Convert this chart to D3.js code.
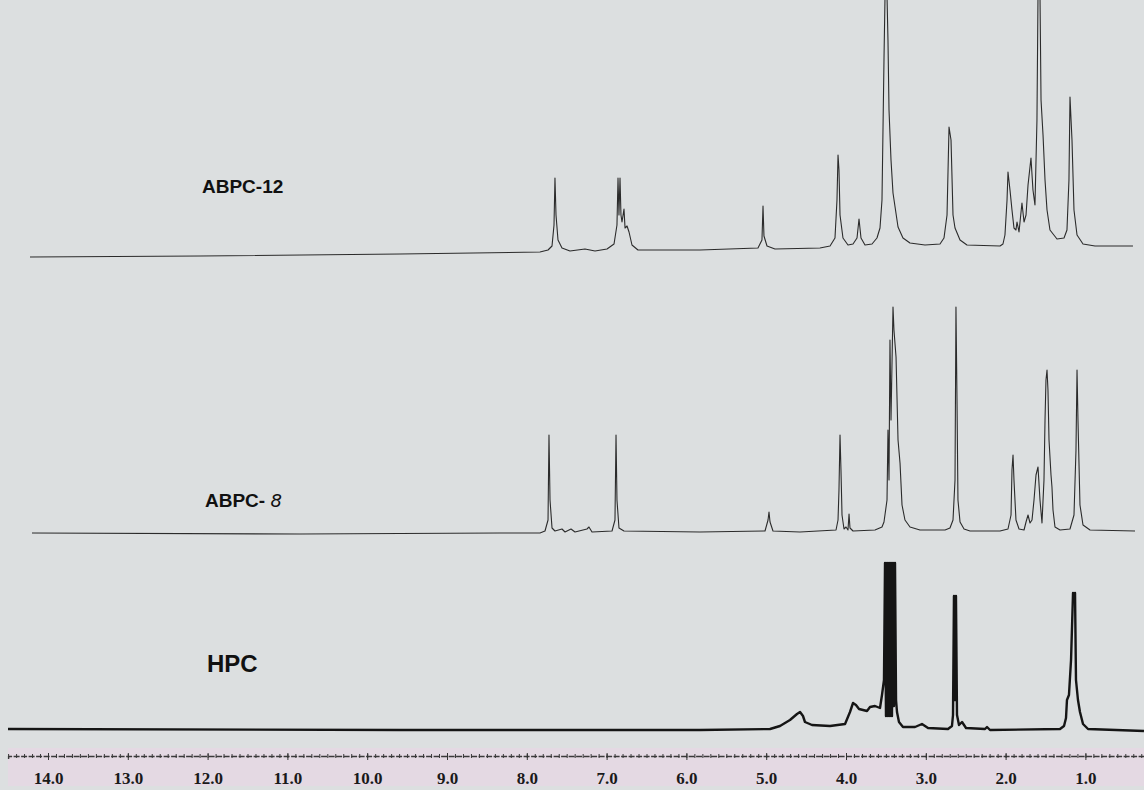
<!DOCTYPE html>
<html><head><meta charset="utf-8">
<script src="https://cdn.jsdelivr.net/npm/d3@7"></script>
<style>
html,body{margin:0;padding:0;background:#dcdfe0;}
svg{display:block;}
</style></head>
<body>
<svg id="chart" width="1144" height="790"></svg>
<script>
// ---- data: [chemical shift (ppm), intensity (arb. units)] ----
const abpc12 = [
 [14.226,1],[12.095,2],[9.589,4],[7.835,6],[7.734,8],[7.684,12],[7.659,33],[7.647,80],[7.634,43],[7.609,18],
 [7.559,10],[7.459,7],[7.271,9],[7.145,7],[6.995,9],[6.907,14],[6.870,33],[6.857,80],[6.845,43],[6.832,80],
 [6.820,43],[6.807,36],[6.782,49],[6.769,30],[6.744,32],[6.719,26],[6.682,13],[6.607,8],[5.830,8],
 [5.103,10],[5.053,18],[5.040,52],[5.028,22],[4.990,12],[4.890,9],[4.326,10],
 [4.200,12],[4.138,20],[4.113,58],[4.100,103],[4.088,88],[4.075,43],[4.038,20],[3.975,13],[3.912,14],
 [3.862,20],[3.837,39],[3.812,20],[3.762,13],[3.674,14],
 [3.612,20],[3.574,30],[3.549,58],[3.524,198],[3.511,262],[3.486,262],[3.474,218],[3.461,148],[3.436,98],
 [3.411,65],[3.348,31],[3.286,20],[3.198,15],[3.010,13],[2.822,14],
 [2.772,20],[2.734,43],[2.709,131],[2.684,118],[2.659,43],[2.634,30],[2.571,18],[2.484,13],[2.070,12],
 [2.033,14],[2.008,23],[1.982,58],[1.970,86],[1.945,68],[1.920,48],[1.895,30],[1.870,28],[1.857,36],
 [1.832,26],[1.795,55],[1.769,36],[1.744,43],[1.719,73],[1.682,100],[1.657,68],[1.632,53],[1.607,138],
 [1.594,262],[1.569,262],[1.556,158],[1.531,123],[1.506,78],[1.481,48],[1.444,28],[1.356,19],[1.268,20],
 [1.231,28],[1.206,78],[1.193,161],[1.168,118],[1.143,48],[1.105,23],[1.030,14],[0.880,12],[0.404,12]
];
const abpc8 = [
 [14.201,1],[10.842,0],[8.336,1],[7.835,1],[7.772,3],[7.734,14],[7.722,99],[7.709,34],[7.684,6],[7.647,3],
 [7.559,5],[7.521,2],[7.446,5],[7.396,2],[7.246,5],[7.221,7],[7.183,2],
 [6.932,3],[6.895,14],[6.882,99],[6.870,34],[6.845,6],[6.782,3],[5.830,2],
 [5.015,3],[4.977,14],[4.965,22],[4.952,12],[4.915,3],[4.577,2],
 [4.125,4],[4.100,14],[4.088,44],[4.075,99],[4.063,64],[4.050,19],[4.025,5],[4.000,7],[3.975,4],[3.962,20],
 [3.950,6],[3.912,3],[3.637,4],[3.549,7],[3.524,12],[3.486,34],[3.474,104],[3.461,54],[3.449,194],
 [3.436,114],[3.411,227],[3.399,204],[3.373,177],[3.348,94],[3.323,71],[3.298,29],[3.261,14],[3.198,7],
 [3.073,4],[2.759,4],[2.697,6],[2.659,14],[2.634,54],[2.622,227],[2.609,134],[2.597,34],[2.571,12],
 [2.521,5],[2.446,3],[2.070,3],[1.970,5],[1.932,19],[1.920,64],[1.907,79],[1.895,54],[1.870,14],
 [1.832,5],[1.769,4],[1.744,12],[1.719,19],[1.694,11],[1.669,14],[1.644,34],[1.619,59],[1.594,67],
 [1.569,34],[1.544,11],[1.519,54],[1.506,114],[1.494,154],[1.481,164],[1.469,144],[1.456,94],[1.431,59],
 [1.419,47],[1.406,24],[1.381,7],[1.318,4],[1.193,5],[1.143,19],[1.118,84],[1.105,164],[1.093,114],
 [1.068,29],[1.030,9],[0.942,4],[0.378,3]
];
const hpc = [
 [14.501,2],[9.589,1],[5.830,1],[4.952,2],[4.827,5],[4.702,11],[4.614,17],[4.576,19],[4.539,15],[4.514,9],
 [4.426,6],[4.200,5],[4.012,7],[3.950,19],[3.912,28],[3.875,26],[3.837,22],[3.787,21],[3.737,20],
 [3.699,24],[3.637,25],[3.574,23],[3.549,36],[3.524,51],[3.511,168],[3.499,15],[3.486,168],[3.474,15],
 [3.461,168],[3.449,15],[3.436,168],[3.424,15],[3.411,168],[3.399,25],[3.386,168],[3.373,31],[3.361,19],
 [3.336,9],[3.286,4],[3.135,4],[3.048,7],[2.972,3],[2.722,2],[2.672,5],[2.659,16],[2.647,135],[2.634,31],
 [2.622,135],[2.609,16],[2.584,6],[2.546,9],[2.496,3],[2.258,2],[2.233,4],[2.195,1],[1.318,2],
 [1.268,5],[1.243,13],[1.231,31],[1.206,36],[1.180,71],[1.155,138],[1.143,131],[1.130,138],[1.118,51],
 [1.093,31],[1.068,19],[1.030,7],[0.967,2],[0.266,0]
];
const spectrumNames = ["ABPC-12", "ABPC- ", "HPC"];
const tickLabels = [14.0, 13.0, 12.0, 11.0, 10.0, 9.0, 8.0, 7.0, 6.0, 5.0, 4.0, 3.0, 2.0, 1.0];

// ---- drawing ----
const svg = d3.select("#chart");
const W = 1144, H = 790;

const x = d3.scaleLinear().domain([14, 1]).range([48, 1085.4]);

// label band
svg.append("rect").attr("x", 8).attr("y", 748).attr("width", W - 8).attr("height", 38)
  .attr("fill", "#e4d9e3");

const panels = [
  {data: abpc12, base: 258, color: "#2b2b2b", w: 1.1},
  {data: abpc8, base: 534, color: "#2b2b2b", w: 1.1},
  {data: hpc, base: 731, color: "#151515", w: 2.4}
];

panels.forEach(p => {
  const y = d3.scaleLinear().domain([0, 100]).range([p.base, p.base - 100]);
  const line = d3.line().x(d => x(d[0])).y(d => y(d[1]));
  svg.append("path").datum(p.data)
    .attr("d", line)
    .attr("fill", "none")
    .attr("stroke", p.color)
    .attr("stroke-width", p.w)
    .attr("stroke-linejoin", "round");
});

// spectrum labels
svg.append("text").attr("x", 202).attr("y", 193)
  .attr("font-family", "Liberation Sans, Arial, sans-serif").attr("font-weight", "bold")
  .attr("font-size", 19).attr("fill", "#111").text(spectrumNames[0]);
const t8 = svg.append("text").attr("x", 205).attr("y", 507)
  .attr("font-family", "Liberation Sans, Arial, sans-serif").attr("font-weight", "bold")
  .attr("font-size", 19).attr("fill", "#111");
t8.append("tspan").text(spectrumNames[1]);
t8.append("tspan").attr("font-style", "italic").attr("font-weight", "normal")
  .attr("font-family", "DejaVu Sans, sans-serif").attr("font-size", 18).text("8");
svg.append("text").attr("x", 207).attr("y", 672)
  .attr("font-family", "Liberation Sans, Arial, sans-serif").attr("font-weight", "bold")
  .attr("font-size", 24).attr("fill", "#111").text(spectrumNames[2]);

// ruler (minor ticks)
const xr = x.copy().domain([14.5, 0.25]).range([x(14.5), x(0.25)]);
const ruler = svg.append("g").attr("transform", "translate(0,756)")
  .call(d3.axisBottom(xr).ticks(140).tickSize(3).tickFormat(""));
ruler.selectAll("path").attr("stroke", "#3a3a3a").attr("stroke-width", 1.4).attr("stroke-dasharray", "6,1.5");
ruler.selectAll("line").attr("stroke", "#3a3a3a").attr("y1", -2).attr("y2", 2);

// major ticks + labels
const ax = svg.append("g").attr("transform", "translate(0,756)")
  .call(d3.axisBottom(x).tickValues(tickLabels).tickSize(4).tickPadding(12)
    .tickFormat(d3.format(".1f")));
ax.select(".domain").remove();
ax.selectAll("line").attr("stroke", "#333").attr("y1", -3);
ax.selectAll("text").attr("font-family", "Liberation Serif, Times New Roman, serif")
  .attr("font-weight", "bold").attr("font-size", 17).attr("fill", "#1a1a1a");
</script>
</body></html>
